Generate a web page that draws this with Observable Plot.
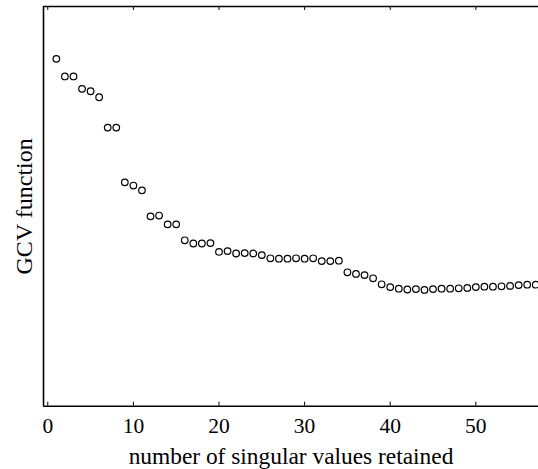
<!DOCTYPE html>
<html>
<head>
<meta charset="utf-8">
<script src="https://cdn.jsdelivr.net/npm/d3@7"></script>
<script src="https://cdn.jsdelivr.net/npm/@observablehq/plot@0.6"></script>
<style>
  html, body { margin: 0; padding: 0; background: #fff; }
</style>
</head>
<body>
<div id="chart"></div>
<script>
// number of singular values retained
const kept = d3.range(1, 58);
// GCV function (arbitrary units)
const gcv = [
  0.869, 0.825, 0.825, 0.794, 0.788, 0.773, 0.697, 0.697, 0.560, 0.552,
  0.540, 0.475, 0.477, 0.455, 0.455, 0.415, 0.407, 0.407, 0.408, 0.386,
  0.388, 0.382, 0.383, 0.382, 0.378, 0.370, 0.369, 0.369, 0.370, 0.369,
  0.370, 0.363, 0.363, 0.364, 0.335, 0.331, 0.328, 0.320, 0.305, 0.298,
  0.294, 0.292, 0.293, 0.291, 0.293, 0.294, 0.294, 0.295, 0.296, 0.298,
  0.299, 0.299, 0.300, 0.301, 0.303, 0.304, 0.304
];
const xTicks = [0, 10, 20, 30, 40, 50];
const xLabel = "number of singular values retained";
const yLabel = "GCV function";

const data = kept.map((k, i) => ({k, v: gcv[i]}));
const font = "'Liberation Serif', 'DejaVu Serif', serif";

const chart = Plot.plot({
  width: 538,
  height: 469,
  marginLeft: 43,
  marginRight: 0,
  marginTop: 6,
  marginBottom: 63.3,
  style: {fontFamily: font, background: "#fff", color: "#000"},
  x: {domain: [-0.5, 57.32], axis: null},
  y: {domain: [0, 1], axis: null},
  marks: [
    // frame (left, top, bottom)
    Plot.ruleX([-0.5], {y1: 0, y2: 1, stroke: "#000", strokeWidth: 1.6}),
    Plot.ruleY([0, 1], {stroke: "#000", strokeWidth: 1.6}),
    // inward ticks bottom and top
    Plot.ruleX(xTicks, {x: d => d, y1: 0, y2: 0.01, stroke: "#000", strokeWidth: 1}),
    Plot.ruleX(xTicks, {x: d => d, y1: 1, y2: 0.99, stroke: "#000", strokeWidth: 1}),
    Plot.axisX({ticks: xTicks, tickSize: 0, tickPadding: 12, fontSize: 21.5, fontFamily: font, label: null, tickFormat: d => String(d)}),
    Plot.dot(data, {x: "k", y: "v", r: 3.3, stroke: "#000", strokeWidth: 1.2, fill: "none"}),
    Plot.text([xLabel], {text: d => d, frameAnchor: "bottom", textAnchor: "middle", lineAnchor: "middle", dy: 50, fontSize: 23.4, fontFamily: font, fill: "#000"}),
    Plot.text([yLabel], {text: d => d, frameAnchor: "left", textAnchor: "middle", lineAnchor: "middle", rotate: -90, dx: -19, fontSize: 24, fontFamily: font, fill: "#000"})
  ]
});
document.getElementById("chart").appendChild(chart);
</script>
</body>
</html>
